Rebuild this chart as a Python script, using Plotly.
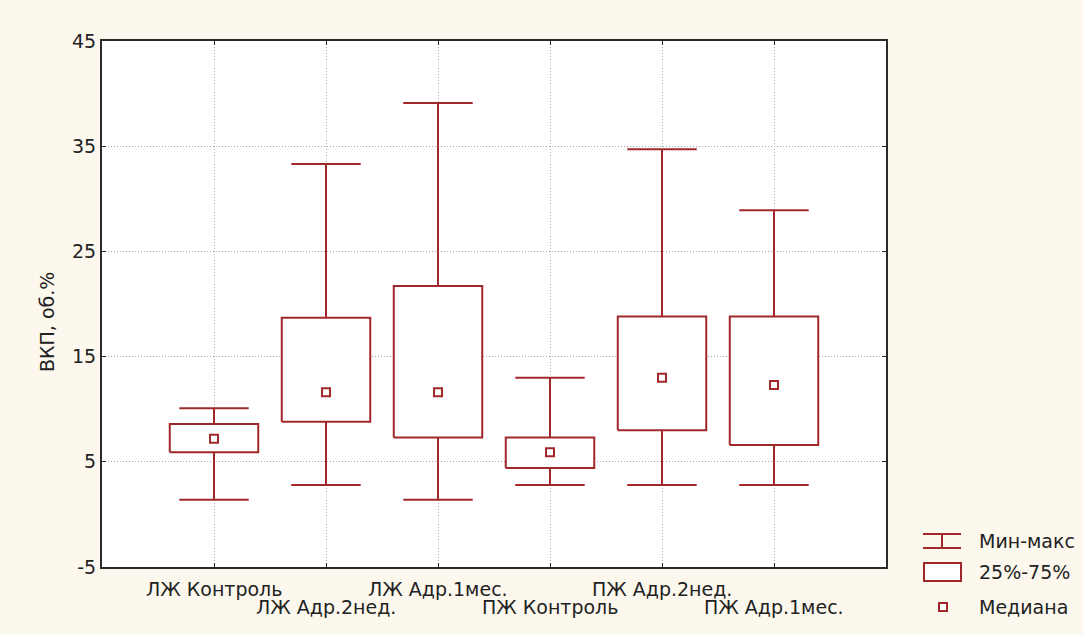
import plotly.graph_objects as go

# Group labels and summary statistics (ВКП, об.%)
categories = ["ЛЖ Контроль", "ЛЖ Адр.2нед.", "ЛЖ Адр.1мес.",
              "ПЖ Контроль", "ПЖ Адр.2нед.", "ПЖ Адр.1мес."]
v_min = [1.4, 2.8, 1.4, 2.8, 2.8, 2.8]
q1 = [5.9, 8.8, 7.3, 4.4, 8.0, 6.6]
median = [7.2, 11.6, 11.6, 5.9, 13.0, 12.3]
q3 = [8.6, 18.7, 21.7, 7.3, 18.8, 18.8]
v_max = [10.1, 33.3, 39.1, 13.0, 34.7, 28.9]
y_ticks = [-5, 5, 15, 25, 35, 45]
y_tick_text = ["-5", "5", "15", "25", "35", "45"]
legend_labels = ["Мин-макс", "25%-75%", "Медиана"]

RED = "#A0282A"
TXT = "#222222"
GRID = "#A8A8A8"
FONT = "DejaVu Sans"
BOX_HALF = 0.395
CAP_HALF = 0.31

W, H = 1083, 634
M = dict(l=102, r=197, t=41, b=67)
plot_w = W - M["l"] - M["r"]
plot_h = H - M["t"] - M["b"]


def px(x):
    return (x - M["l"]) / plot_w


def py(y):
    return (H - M["b"] - y) / plot_h


pos = list(range(len(categories)))

# whisker stems and caps
wx, wy = [], []
for i in pos:
    wx += [i, i, None]
    wy += [v_min[i], v_max[i], None]
    for v in (v_min[i], v_max[i]):
        wx += [i - CAP_HALF, i + CAP_HALF, None]
        wy += [v, v, None]

# interquartile boxes
bx, by = [], []
for i in pos:
    bx += [i - BOX_HALF, i + BOX_HALF, i + BOX_HALF, i - BOX_HALF, i - BOX_HALF, None]
    by += [q1[i], q1[i], q3[i], q3[i], q1[i], None]

fig = go.Figure()
fig.add_trace(go.Scatter(x=wx, y=wy, mode="lines",
                         line=dict(color=RED, width=2), hoverinfo="skip",
                         showlegend=False))
fig.add_trace(go.Scatter(x=bx, y=by, mode="lines", fill="toself",
                         fillcolor="white", line=dict(color=RED, width=2),
                         hoverinfo="skip", showlegend=False))
fig.add_trace(go.Scatter(x=pos, y=median, mode="markers",
                         marker=dict(symbol="square-open", size=8,
                                     color=RED, line=dict(color=RED, width=2)),
                         showlegend=False))

# staggered category labels
for i, name in enumerate(categories):
    fig.add_annotation(x=i, xref="x", y=0, yref="paper", text=name,
                       showarrow=False, yanchor="middle",
                       yshift=-22 if i % 2 == 0 else -40,
                       font=dict(family=FONT, size=19, color=TXT))

# y-axis title
fig.add_annotation(x=0, xref="paper", xshift=-68, y=py(322), yref="paper",
                   text="ВКП, об.%", textangle=-90, showarrow=False,
                   font=dict(family=FONT, size=19, color=TXT))

# legend: icons and text
shapes = []
line_style = dict(color=RED, width=2)
# Мин-макс icon
shapes += [
    dict(type="line", xref="paper", yref="paper", x0=px(923), x1=px(961),
         y0=py(534), y1=py(534), line=line_style),
    dict(type="line", xref="paper", yref="paper", x0=px(923), x1=px(961),
         y0=py(548), y1=py(548), line=line_style),
    dict(type="line", xref="paper", yref="paper", x0=px(942), x1=px(942),
         y0=py(534), y1=py(548), line=line_style),
]
# 25%-75% icon
shapes.append(dict(type="rect", xref="paper", yref="paper", x0=px(924), x1=px(961),
                   y0=py(563), y1=py(581), line=line_style, fillcolor="white"))
# Медиана icon
shapes.append(dict(type="rect", xref="paper", yref="paper", x0=px(939), x1=px(947),
                   y0=py(603), y1=py(611), line=line_style, fillcolor="white"))

for label, yc in zip(legend_labels, [541, 572, 607]):
    fig.add_annotation(x=px(977), xref="paper", y=py(yc), yref="paper",
                       text=label, showarrow=False, xanchor="left",
                       yanchor="middle",
                       font=dict(family=FONT, size=19, color=TXT))

fig.update_layout(
    width=W, height=H, margin=M,
    paper_bgcolor="#FDF8EE", plot_bgcolor="white",
    shapes=shapes, showlegend=False,
    font=dict(family=FONT, size=19, color=TXT),
)
fig.update_xaxes(range=[-1, len(categories)], tickvals=pos, showticklabels=False,
                 showgrid=True, gridcolor=GRID, griddash="1px,2px", gridwidth=1,
                 zeroline=False, showline=True, linecolor="#2a2a2a", linewidth=2,
                 mirror="ticks", ticks="inside", ticklen=4, tickcolor="#2a2a2a")
fig.update_yaxes(range=[-5, 45], tickvals=y_ticks, ticktext=y_tick_text,
                 showgrid=True, gridcolor=GRID, griddash="1px,2px", gridwidth=1,
                 zeroline=False, showline=True, linecolor="#2a2a2a", linewidth=2,
                 mirror="ticks", ticks="inside", ticklen=4, tickcolor="#2a2a2a",
                 tickfont=dict(family=FONT, size=19, color=TXT))

fig.write_html("out.html")
